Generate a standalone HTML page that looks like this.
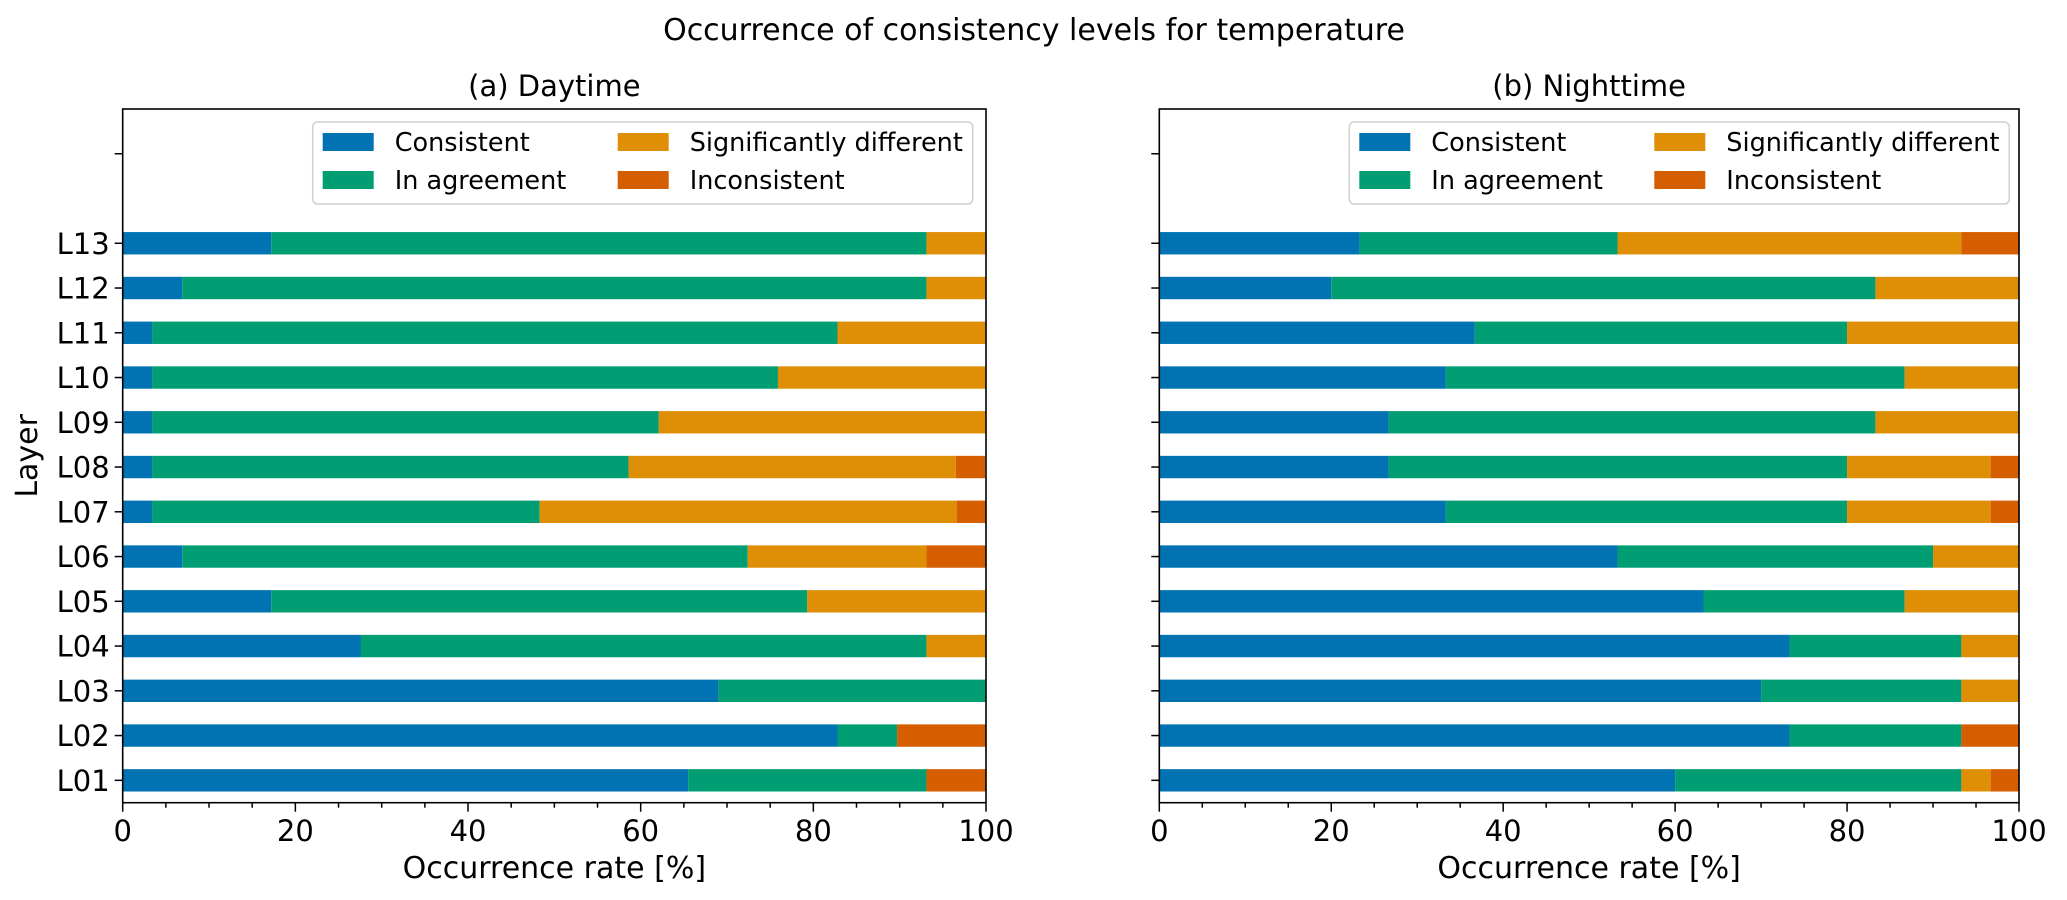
<!DOCTYPE html>
<html><head><meta charset="utf-8">
<style>
html,body{margin:0;padding:0;background:#fff;}
svg{display:block;font-family:"DejaVu Sans","Liberation Sans",sans-serif;}
</style></head>
<body>
<svg id="fig" width="2067" height="900" viewBox="0 0 2067 900" xmlns="http://www.w3.org/2000/svg">
<rect width="2067" height="900" fill="#fff"/>
<text x="1034" y="40" font-size="30" text-anchor="middle" fill="#000">Occurrence of consistency levels for temperature</text>
<g id="panelA"></g>
<g id="panelB"></g>
</svg>
<script>
const layers = ["L01","L02","L03","L04","L05","L06","L07","L08","L09","L10","L11","L12","L13"];
const seriesNames = ["Consistent","In agreement","Significantly different","Inconsistent"];
const seriesColors = ["#0173b2","#029e73","#de8f05","#d55e00"];
const xTicks = [0,20,40,60,80,100];
// Daytime (L01..L13)
const dayConsistent   = [65.5,82.8,69.0,27.6,17.2,6.9,3.4,3.4,3.4,3.4,3.4,6.9,17.2];
const dayAgreement    = [27.6,6.9,31.0,65.5,62.1,65.5,44.9,55.2,58.7,72.5,79.4,86.2,75.9];
const daySignificant  = [0,0,0,6.9,20.7,20.7,48.3,37.9,37.9,24.1,17.2,6.9,6.9];
const dayInconsistent = [6.9,10.3,0,0,0,6.9,3.4,3.4,0,0,0,0,0];
// Nighttime (L01..L13)
const nightConsistent   = [60.0,73.3,70.0,73.3,63.3,53.3,33.3,26.7,26.7,33.3,36.7,20.0,23.3];
const nightAgreement    = [33.3,20.0,23.3,20.0,23.4,36.7,46.7,53.3,56.6,53.4,43.3,63.3,30.0];
const nightSignificant  = [3.4,0,6.7,6.7,13.3,10.0,16.7,16.7,16.7,13.3,20.0,16.7,40.0];
const nightInconsistent = [3.3,6.7,0,0,0,0,3.3,3.3,0,0,0,0,6.7];

const NS="http://www.w3.org/2000/svg";
function mk(tag,attrs,parent){const e=document.createElementNS(NS,tag);for(const k in attrs)e.setAttribute(k,attrs[k]);parent.appendChild(e);return e;}

function drawPanel(g, x0, x1, title, series, showY){
  const yTop=109, yBot=802.7, yMin=-0.5, yMax=15;
  const xs=v=>x0+(v/100)*(x1-x0);
  const ys=v=>yBot-(v-yMin)/(yMax-yMin)*(yBot-yTop);
  const bh=0.5*(yBot-yTop)/(yMax-yMin);
  const t=mk('text',{x:(x0+x1)/2,y:96,'font-size':29,'text-anchor':'middle',fill:'#000'},g);
  t.textContent=title;
  
  
  for(let i=0;i<layers.length;i++){
    let cum=0;
    for(let s=0;s<4;s++){
      const v=series[s][i];
      if(v>0){
        const r=mk('rect',{x:xs(cum),y:ys(i)-bh/2,width:xs(cum+v)-xs(cum),height:bh,fill:seriesColors[s]},g);
        
        
      }
      cum+=v;
    }
  }
  const fr=mk('rect',{x:x0,y:yTop,width:x1-x0,height:yBot-yTop,fill:'none',stroke:'#000','stroke-width':1.6},g);
  
  
  for(let v=0;v<=100;v+=5){
    const major=v%20===0;
    mk('line',{x1:xs(v),x2:xs(v),y1:yBot,y2:yBot+(major?9:5),stroke:'#000','stroke-width':1.5},g);
  }
  xTicks.forEach(v=>{
    const tl=mk('text',{x:xs(v),y:841,'font-size':29,'text-anchor':'middle',fill:'#000'},g);
    tl.textContent=v;
    
    
  });
  const xl=mk('text',{x:(x0+x1)/2,y:878,'font-size':30,'text-anchor':'middle',fill:'#000'},g);
  xl.textContent='Occurrence rate [%]';
  
  
  const tickIdx=[...layers.map((_,i)=>i),14];
  tickIdx.forEach(i=>{
    mk('line',{x1:x0-8,x2:x0,y1:ys(i),y2:ys(i),stroke:'#000','stroke-width':1.5},g);
    if(showY && i<layers.length){
      const yl=mk('text',{x:x0-13,y:ys(i)+10.5,'font-size':29,'text-anchor':'end',fill:'#000'},g);
      yl.textContent=layers[i];
      
      
    }
  });
  if(showY){
    const yt=mk('text',{x:0,y:0,'font-size':30,'text-anchor':'middle',fill:'#000',transform:`translate(37,${(yTop+yBot)/2}) rotate(-90)`},g);
    yt.textContent='Layer';
    
    
  }
  const lx=x0+190, ly=122;
  const lg=mk('g',{},g);
  
  
  mk('rect',{x:lx,y:ly,width:660,height:82,rx:5,fill:'#fff','fill-opacity':0.8,stroke:'#d0d0d0','stroke-width':1.5},lg);
  const pos=[[0,0],[0,1],[1,0],[1,1]];
  for(let s=0;s<4;s++){
    const [c,r]=pos[s];
    const px=lx+10+c*295, cy=142+r*38;
    mk('rect',{x:px,y:cy-9,width:51,height:18,fill:seriesColors[s]},lg);
    const lt=mk('text',{x:px+72,y:cy+9,'font-size':25.5,fill:'#000'},lg);
    lt.textContent=seriesNames[s];
    
    
  }
}
drawPanel(document.getElementById('panelA'),122.7,986,'(a) Daytime',[dayConsistent,dayAgreement,daySignificant,dayInconsistent],true);
drawPanel(document.getElementById('panelB'),1159.3,2019,'(b) Nighttime',[nightConsistent,nightAgreement,nightSignificant,nightInconsistent],false);
</script>
</body></html>
